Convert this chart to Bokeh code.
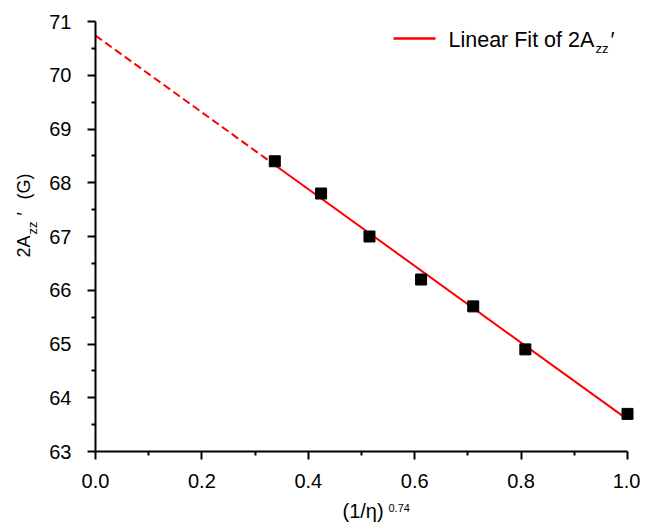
import numpy as np
from bokeh.plotting import figure
from bokeh.models import FixedTicker, Label, Range1d
from bokeh.embed import file_html
from bokeh.resources import INLINE

# ---- data ----
x_vals = [0.337, 0.424, 0.515, 0.612, 0.710, 0.808, 1.0]
y_vals = [68.4, 67.8, 67.0, 66.2, 65.7, 64.9, 63.7]

x_ticks = [0.0, 0.2, 0.4, 0.6, 0.8, 1.0]
x_tick_labels = ["0.0", "0.2", "0.4", "0.6", "0.8", "1.0"]
x_minor = [0.1, 0.3, 0.5, 0.7, 0.9]
y_ticks = [63, 64, 65, 66, 67, 68, 69, 70, 71]
y_tick_labels = ["63", "64", "65", "66", "67", "68", "69", "70", "71"]
y_minor = [63.5, 64.5, 65.5, 66.5, 67.5, 68.5, 69.5, 70.5]
x_axis_min, x_axis_max = 0.0, 1.0
y_axis_min, y_axis_max = 63.0, 71.0

legend_text = "Linear Fit of 2A"

# ---- layout: the frame covers the whole canvas; axes sit at fixed spots ----
W, H = 640, 522
X_ORIGIN_PX, PX_PER_X = 95.0, 532.0     # where x = 0 falls, pixels per unit
Y_TOP_PX, PX_PER_Y = 21.0, 53.75        # where y = 71 falls, pixels per unit

X0 = x_axis_min - X_ORIGIN_PX / PX_PER_X
X1 = x_axis_min + (W - X_ORIGIN_PX) / PX_PER_X
Y1 = y_axis_max + Y_TOP_PX / PX_PER_Y
Y0 = y_axis_max - (H - Y_TOP_PX) / PX_PER_Y

def px2x(fx):
    return x_axis_min + (fx - X_ORIGIN_PX) / PX_PER_X

def px2y(fy):
    return y_axis_max - (fy - Y_TOP_PX) / PX_PER_Y

FONT = "Liberation Sans"
SHIFT = 0.35   # label anchor sits this many em above the glyph baseline

p = figure(width=W, height=H, output_backend="svg", toolbar_location=None,
           x_range=Range1d(X0, X1), y_range=Range1d(Y0, Y1),
           min_border_left=0, min_border_top=0,
           min_border_right=0, min_border_bottom=0)
p.xgrid.visible = False
p.ygrid.visible = False
p.outline_line_color = None
p.background_fill_color = "white"
p.border_fill_color = "white"

# linear fit
slope, intercept = np.polyfit(x_vals, y_vals, 1)
xs_solid = [min(x_vals), max(x_vals)]
xs_dash = [x_axis_min, min(x_vals)]
p.line(xs_dash, [intercept + slope * v for v in xs_dash], line_color="#ff0000",
       line_width=2, line_dash="8 4")
p.line(xs_solid, [intercept + slope * v for v in xs_solid], line_color="#ff0000",
       line_width=2)

p.scatter(x_vals, y_vals, marker="square", size=11, fill_color="black",
          line_color="black")

# axes
for ax, ticks, minor, labels in ((p.xaxis, x_ticks, x_minor, x_tick_labels),
                                 (p.yaxis, y_ticks, y_minor, y_tick_labels)):
    ax.ticker = FixedTicker(ticks=ticks, minor_ticks=minor)
    ax.major_label_overrides = {t: l for t, l in zip(ticks, labels)}
    ax.axis_line_width = 2
    ax.axis_line_color = "black"
    ax.major_tick_line_width = 2
    ax.minor_tick_line_width = 2
    ax.major_tick_in = 0
    ax.major_tick_out = 8
    ax.minor_tick_in = 0
    ax.minor_tick_out = 4
    ax.major_label_text_font = FONT
    ax.major_label_text_font_size = "20px"
    ax.major_label_text_color = "black"
p.xaxis.major_label_standoff = 14
p.yaxis.major_label_standoff = 16
p.xaxis.bounds = (x_axis_min, x_axis_max)
p.yaxis.bounds = (y_axis_min, y_axis_max)
p.xaxis.fixed_location = y_axis_min
p.yaxis.fixed_location = x_axis_min

def add_label(text, fx, fy, size, rotated=False):
    # (fx, fy): pixel position of the start of the glyph baseline
    if rotated:
        fx = fx - SHIFT * size
    else:
        fy = fy - SHIFT * size
    p.add_layout(Label(x=px2x(fx), y=px2y(fy), text=text,
                       angle=np.pi / 2 if rotated else 0.0,
                       text_font=FONT, text_font_size=f"{size}px",
                       text_color="black", text_align="left",
                       text_baseline="alphabetic"))

# legend
p.line([px2x(393), px2x(435)], [px2y(38), px2y(38)], line_color="#ff0000",
       line_width=2.5)
add_label(legend_text, 448, 47, 21.5)
add_label("zz", 595, 53, 13)
add_label("\u2032", 610, 47, 21.5)

# x axis label
add_label("(1/\u03b7)", 342, 517, 20)
add_label("0.74", 388, 511, 11)

# y axis label (rotated)
add_label("2A", 30, 257, 18, True)
add_label("zz", 37, 234, 13, True)
add_label("\u2032", 30, 215, 18, True)
add_label("(G)", 30, 199, 18, True)

open("out.html", "w").write(file_html(p, INLINE))
